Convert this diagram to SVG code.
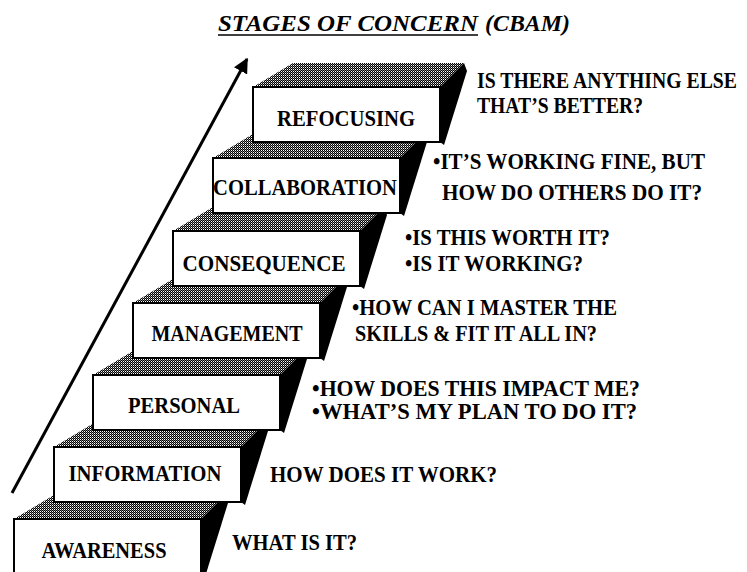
<svg xmlns="http://www.w3.org/2000/svg" width="747" height="572" viewBox="0 0 747 572">
<defs>
<pattern id="dots" width="2" height="2" patternUnits="userSpaceOnUse">
<rect width="2" height="2" fill="#000"/>
<rect x="0" y="0" width="1" height="1" fill="#fff"/>
<rect x="1" y="1" width="1" height="1" fill="#777"/>
</pattern>
<marker id="ah" viewBox="0 0 10 10" refX="9" refY="5" markerWidth="5" markerHeight="5" orient="auto" markerUnits="strokeWidth">
<path d="M0,0 L10,5 L0,10 Z" fill="#000"/>
</marker>
<g id="box">
<polygon points="0,0 40,-24 211,-24 187,0" fill="url(#dots)"/>
<polygon points="187,0 211,-24 214,-16 191,58 187,55" fill="#000"/>
<rect x="0" y="0" width="187" height="55" fill="#fff" stroke="#000" stroke-width="2"/>
</g>
</defs>
<style>
text{font-family:'Liberation Serif','Times New Roman',serif;font-weight:700;fill:#000}
.lbl{font-size:24px;text-anchor:middle}
.q{font-size:23px}
.t{font-style:italic;font-size:23px}
</style>
<rect width="747" height="572" fill="#fff"/>
<g id="title" font-family="Liberation Serif">
<text class="t" x="218" y="31" textLength="260" lengthAdjust="spacingAndGlyphs">STAGES OF CONCERN</text>
<line x1="218" y1="35" x2="478" y2="35" stroke="#000" stroke-width="1.5"/>
<text class="t" x="485" y="31" textLength="85" lengthAdjust="spacingAndGlyphs">(CBAM)</text>
</g>
<g id="connectors">
<line x1="12" y1="493" x2="247" y2="59" stroke="#000" stroke-width="3" marker-end="url(#ah)"/>
</g>
<g id="awareness" font-family="Liberation Serif">
<use href="#box" x="14" y="519"/>
<text class="lbl" x="104" y="558" textLength="125" lengthAdjust="spacingAndGlyphs">AWARENESS</text>
<text class="q" x="232" y="550" textLength="125" lengthAdjust="spacingAndGlyphs">WHAT IS IT?</text>
</g>
<g id="information" font-family="Liberation Serif">
<use href="#box" x="54" y="447"/>
<text class="lbl" x="145" y="481" textLength="153" lengthAdjust="spacingAndGlyphs">INFORMATION</text>
<text class="q" x="270" y="482" textLength="227" lengthAdjust="spacingAndGlyphs">HOW DOES IT WORK?</text>
</g>
<g id="personal" font-family="Liberation Serif">
<use href="#box" x="93" y="375"/>
<text class="lbl" x="184" y="413" textLength="112" lengthAdjust="spacingAndGlyphs">PERSONAL</text>
<text class="q" x="312" y="396" textLength="328" lengthAdjust="spacingAndGlyphs">•HOW DOES THIS IMPACT ME?</text>
<text class="q" x="312" y="419" textLength="325" lengthAdjust="spacingAndGlyphs">•WHAT’S MY PLAN TO DO IT?</text>
</g>
<g id="management" font-family="Liberation Serif">
<use href="#box" x="133" y="303"/>
<text class="lbl" x="227" y="341" textLength="151" lengthAdjust="spacingAndGlyphs">MANAGEMENT</text>
<text class="q" x="352" y="315" textLength="265" lengthAdjust="spacingAndGlyphs">•HOW CAN I MASTER THE</text>
<text class="q" x="355" y="341" textLength="242" lengthAdjust="spacingAndGlyphs">SKILLS &amp; FIT IT ALL IN?</text>
</g>
<g id="consequence" font-family="Liberation Serif">
<use href="#box" x="173" y="231"/>
<text class="lbl" x="264" y="271" textLength="163" lengthAdjust="spacingAndGlyphs">CONSEQUENCE</text>
<text class="q" x="405" y="245" textLength="205" lengthAdjust="spacingAndGlyphs">•IS THIS WORTH IT?</text>
<text class="q" x="405" y="271" textLength="178" lengthAdjust="spacingAndGlyphs">•IS IT WORKING?</text>
</g>
<g id="collaboration" font-family="Liberation Serif">
<use href="#box" x="213" y="158"/>
<text class="lbl" x="305" y="195" textLength="184" lengthAdjust="spacingAndGlyphs">COLLABORATION</text>
<text class="q" x="433" y="169" textLength="272" lengthAdjust="spacingAndGlyphs">•IT’S WORKING FINE, BUT</text>
<text class="q" x="442" y="200" textLength="260" lengthAdjust="spacingAndGlyphs">HOW DO OTHERS DO IT?</text>
</g>
<g id="refocusing" font-family="Liberation Serif">
<use href="#box" x="253" y="87"/>
<text class="lbl" x="346" y="126" textLength="138" lengthAdjust="spacingAndGlyphs">REFOCUSING</text>
<text x="0" y="0" font-size="20" transform="translate(477,88) scale(1,1.15)" textLength="260" lengthAdjust="spacingAndGlyphs">IS THERE ANYTHING ELSE</text>
<text class="q" x="477" y="113" textLength="166" lengthAdjust="spacingAndGlyphs">THAT’S BETTER?</text>
</g>
</svg>
